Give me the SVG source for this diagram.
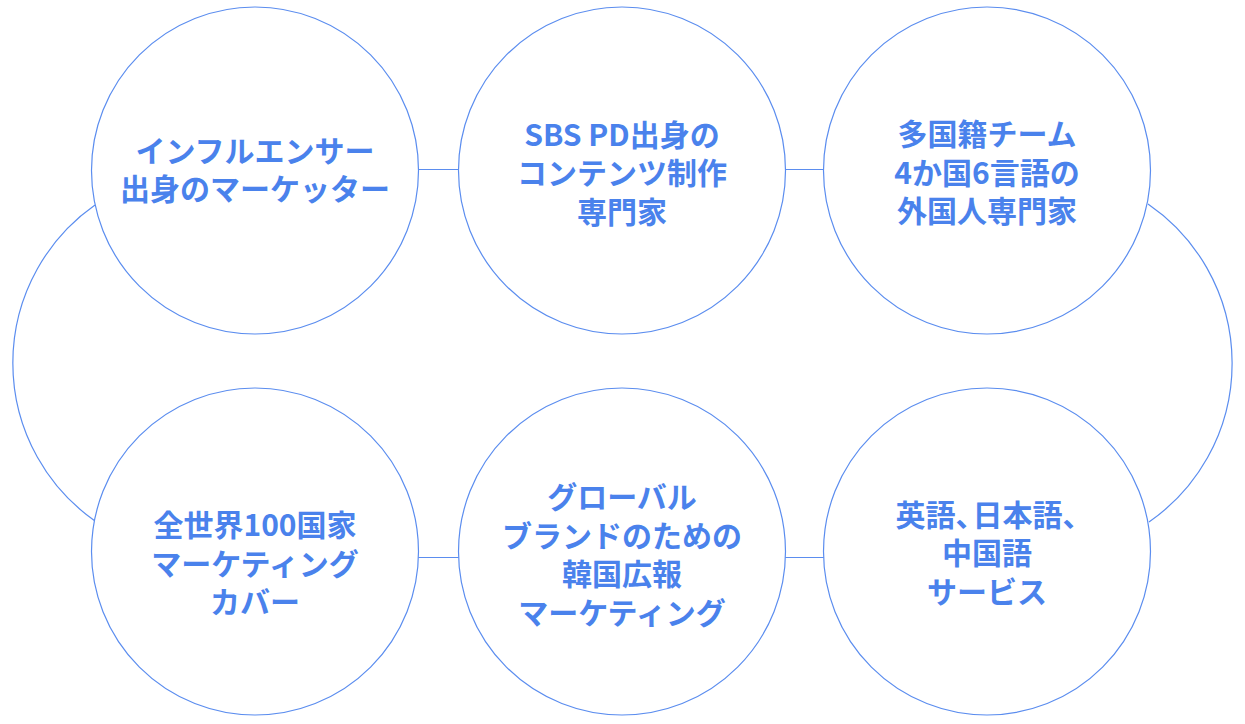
<svg xmlns="http://www.w3.org/2000/svg" width="1245" height="724" viewBox="0 0 1245 724">
<style>
.c{fill:#fff;stroke:#5b8def;stroke-width:1.2}
.l{fill:none;stroke:#5b8def;stroke-width:1.2}
.t{font-family:"Noto Sans CJK JP","Noto Sans",sans-serif;font-weight:700;font-size:30px;fill:#4a82ec;text-anchor:middle}
</style>
<rect width="1245" height="724" fill="#fff"/>
<g id="connectors">
<line class="l" x1="418" y1="169.5" x2="459" y2="169.5"/>
<line class="l" x1="785" y1="169.5" x2="824" y2="169.5"/>
<line class="l" x1="418" y1="557.5" x2="459" y2="557.5"/>
<line class="l" x1="785" y1="557.5" x2="824" y2="557.5"/>
<path class="l" d="M95,205 A193,193 0 0 0 95,521"/>
<path class="l" d="M1148,204 A193,193 0 0 1 1149,522"/>
</g>
<g id="node1">
<circle class="c" cx="255" cy="170.5" r="163.5"/>
<text class="t" x="255" y="162">インフルエンサー</text>
<text class="t" x="255" y="200">出身のマーケッター</text>
</g>
<g id="node2">
<circle class="c" cx="622" cy="170.5" r="163.5"/>
<text class="t" x="622" y="145.5">SBS PD出身の</text>
<text class="t" x="622" y="184">コンテンツ制作</text>
<text class="t" x="622" y="222.5">専門家</text>
</g>
<g id="node3">
<circle class="c" cx="987" cy="170.5" r="163.5"/>
<text class="t" x="987" y="145">多国籍チーム</text>
<text class="t" x="987" y="183.5">4か国6言語の</text>
<text class="t" x="987" y="222">外国人専門家</text>
</g>
<g id="node4">
<circle class="c" cx="255" cy="551.5" r="163.5"/>
<text class="t" x="255" y="536">全世界100国家</text>
<text class="t" x="255" y="574.5">マーケティング</text>
<text class="t" x="255" y="613">カバー</text>
</g>
<g id="node5">
<circle class="c" cx="622" cy="551.5" r="163.5"/>
<text class="t" x="622" y="508">グローバル</text>
<text class="t" x="622" y="546.5">ブランドのための</text>
<text class="t" x="622" y="585">韓国広報</text>
<text class="t" x="622" y="623.5">マーケティング</text>
</g>
<g id="node6">
<circle class="c" cx="987" cy="551.5" r="163.5"/>
<text class="t" x="994" y="525.5">英語、<tspan dx="-13">日本語、</tspan></text>
<text class="t" x="987" y="564">中国語</text>
<text class="t" x="987" y="602.5">サービス</text>
</g>
</svg>
